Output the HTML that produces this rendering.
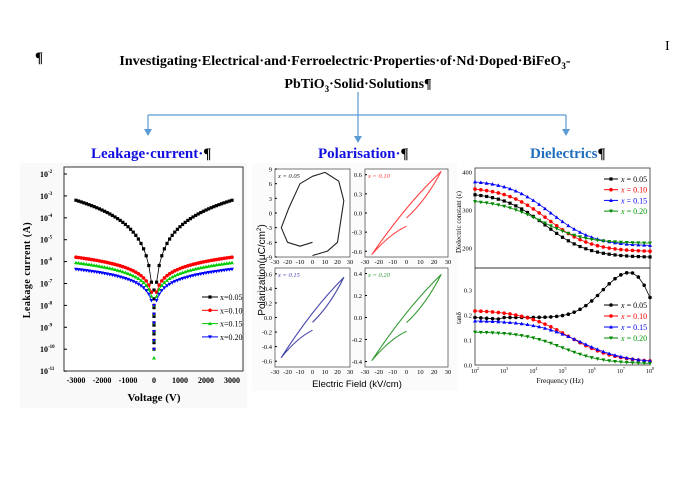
<!DOCTYPE html>
<html><head><meta charset="utf-8"><style>
body{margin:0;background:#fff;}
svg{display:block;font-family:"Liberation Serif",serif;}
</style></head><body>
<svg id="s" width="676" height="477" xmlns="http://www.w3.org/2000/svg">
<text x="35" y="62" font-size="15" font-weight="bold">¶</text>
<text x="665" y="50" font-size="14">I</text>
<text x="345" y="65" font-size="14" font-weight="bold" text-anchor="middle">Investigating·Electrical·and·Ferroelectric·Properties·of·Nd·Doped·BiFeO<tspan font-size="9" dy="4">3</tspan><tspan dy="-4">-</tspan></text>
<text x="358" y="88" font-size="14" font-weight="bold" text-anchor="middle">PbTiO<tspan font-size="9" dy="4">3</tspan><tspan dy="-4">·Solid·Solutions¶</tspan></text>
<g stroke="#5b9bd5" stroke-width="1.2" fill="none">
<path d="M358 92 V138 M148 115 H566 M148 115 V130 M566 115 V130"/>
</g>
<g fill="#5b9bd5"><path d="M144 129 L152 129 L148 136Z"/><path d="M354 136 L362 136 L358 143Z"/><path d="M562 129 L570 129 L566 136Z"/></g>
<text x="91" y="158" font-size="15" font-weight="bold" fill="#1010e0">Leakage·current·<tspan fill="#000">¶</tspan></text>
<text x="318" y="158" font-size="15" font-weight="bold" fill="#1010e0">Polarisation·<tspan fill="#000">¶</tspan></text>
<text x="530" y="158" font-size="15" font-weight="bold" fill="#1f6fc0">Dielectrics<tspan fill="#000">¶</tspan></text>
<rect x="20" y="163" width="227" height="245" fill="#f9f9f9"/>
<rect x="252" y="163" width="205" height="228" fill="#fbfbfb"/>
<g id="g"></g>
</svg>
<script>
var g=document.getElementById('g'),h='';
function T(x,y,t,o){h+='<text x="'+x+'" y="'+y+'" '+(o||'font-size="8"')+'>'+t+'</text>';}
function mk(x,y,c,t){if(t==0)h+='<rect x="'+(x-1.6)+'" y="'+(y-1.6)+'" width="3.2" height="3.2" fill="'+c+'"/>';
else if(t==1)h+='<circle cx="'+x+'" cy="'+y+'" r="1.8" fill="'+c+'"/>';
else if(t==2)h+='<path d="M'+x+' '+(y-2)+'l2 3.5h-4z" fill="'+c+'"/>';
else h+='<path d="M'+x+' '+(y+2)+'l2 -3.5h-4z" fill="'+c+'"/>';}
var cols=['#000','#f00','#0c0','#00f'];
// Leakage
h+='<rect x="64" y="167" width="179" height="204" fill="#fff" stroke="#333" stroke-width="1"/>';
var ly=function(l){return 174+(-2-l)*21.9}, lx=function(v){return 154+v*78/3000};
for(var i=2;i<=11;i++){var y=ly(-i);h+='<line x1="64" x2="67" y1="'+y+'" y2="'+y+'" stroke="#000"/>';T(40,y+3,'10<tspan font-size="5" dy="-4">-'+i+'</tspan>','font-size="8" font-weight="bold"');}
for(var v=-3000;v<=3000;v+=1000){T(lx(v),383,v,'font-size="8" font-weight="bold" text-anchor="middle"');}
T(154,401,'Voltage (V)','font-size="11" font-weight="bold" text-anchor="middle"');
h+='<text transform="translate(30,270) rotate(-90)" font-size="10" font-weight="bold" text-anchor="middle" letter-spacing="0.5">Leakage current (A)</text>';
var L=[[-3.2,1.1],[-5.8,0.47],[-6.05,0.45],[-6.35,0.42]];
L.forEach(function(p,k){var pts=[];for(var v=-3000;v<=3000;v+=100){if(v==0)continue;var l=p[0]-p[1]*Math.log(3000/Math.abs(v));pts.push([lx(v),ly(l)]);}
var d='';pts.forEach(function(q,j){d+=(j==30?'M':(j?'L':'M'))+q[0].toFixed(1)+' '+q[1].toFixed(1);});
h+='<path d="'+d+'" stroke="'+cols[k]+'" fill="none" stroke-width="0.8"/>';pts.forEach(function(q){mk(q[0],q[1],cols[k],k);});
var lo=[-7.3,-8,-8,-8][k],hi=[-10,-10.2,-10.6,-10.3][k];for(var l=lo;l>=hi;l-=0.4)mk(154,ly(l),cols[k],k);});
['x=0.05','x=0.10','x=0.15','x=0.20'].forEach(function(t,k){var y=297+k*13.3;h+='<line x1="202" x2="218" y1="'+y+'" y2="'+y+'" stroke="'+cols[k]+'"/>';mk(210,y,cols[k],k);T(220,y+3,t,'font-size="8"');});
// Polarisation
var P=[[275,350,169,257,9,-9,[9,6,3,0,-3,-6,-9],'x = 0.05','#333',180],[365,448,169,257,0.69,-0.69,[0.6,0.3,'0.0',-0.3,-0.6],'x = 0.10','#f33',0.65],[275,350,268,367,0.68,-0.68,[0.6,0.4,0.2,'0.0',-0.2,-0.4,-0.6],'x = 0.15','#336',0.55],[365,448,268,367,0.45,-0.45,[0.4,0.2,'0.0',-0.2,-0.4],'x = 0.20','#393',0.39]];
var pc=['#222','#f44','#44a','#393'];
P.forEach(function(p,k){var X=function(e){return p[0]+(e+30)/60*(p[1]-p[0])},Y=function(v){return p[3]-(v-p[5])/(p[4]-p[5])*(p[3]-p[2])};
h+='<rect x="'+p[0]+'" y="'+p[2]+'" width="'+(p[1]-p[0])+'" height="'+(p[3]-p[2])+'" fill="#fff" stroke="#555" stroke-width="0.8"/>';
p[6].forEach(function(t){var y=Y(+t);T(p[0]-3,y+2.5,t,'font-size="6.5" text-anchor="end"');h+='<line x1="'+p[0]+'" x2="'+(p[0]+2)+'" y1="'+y+'" y2="'+y+'" stroke="#000"/>';});
for(var e=-30;e<=30;e+=10)T(X(e),p[3]+7,e,'font-size="6.5" text-anchor="middle"');
T(p[0]+3,p[2]+9,p[7],'font-size="6.5" font-style="italic" fill="'+pc[k]+'"');
var d;if(k==0){var q=[[0,-8.7],[12,-7.8],[20,-6],[25,2.5],[21,6.5],[10,8.3],[0,7.5],[-10,6],[-19,1],[-25,-3],[-20,-6],[-10,-6.8],[0,-6]];d='M'+q.map(function(r){return X(r[0]).toFixed(1)+' '+Y(r[1]).toFixed(1)}).join(' L');}
else{var A=p[9];d='M'+X(0)+' '+Y(-0.12*A)+' Q'+X(14)+' '+Y(0.3*A)+' '+X(25)+' '+Y(A)+' Q'+X(0)+' '+Y(0.22*A)+' '+X(-25)+' '+Y(-A)+' Q'+X(-12)+' '+Y(-0.5*A)+' '+X(0)+' '+Y(-0.32*A);}
h+='<path d="'+d+'" fill="none" stroke="'+pc[k]+'" stroke-width="1.1" stroke-linejoin="round"/>';});
T(357,387,'Electric Field (kV/cm)','font-size="9.5" font-family="Liberation Sans" text-anchor="middle"');
h+='<text transform="translate(265,270) rotate(-90)" font-size="10" font-family="Liberation Sans" text-anchor="middle">Polarization(μC/cm<tspan font-size="6" dy="-4">2</tspan><tspan dy="4">)</tspan></text>';
// Dielectrics
var dc=['#000','#f00','#00f','#080'];
h+='<rect x="475" y="168" width="175" height="197" fill="#fff" stroke="#333" stroke-width="0.8"/><line x1="475" x2="650" y1="268" y2="268" stroke="#333"/>';
var FX=function(l){return 475+(l-2)*29.17},UY=function(v){return 172+(400-v)*0.38},BY=function(v){return 365-v*250};
[400,300,200].forEach(function(v){T(472,UY(v)+2.5,v,'font-size="6.5" text-anchor="end"');});
[0.3,0.2,0.1,'0.0'].forEach(function(v){T(472,BY(+v)+2.5,v,'font-size="6.5" text-anchor="end"');});
for(var l=2;l<=8;l++)T(FX(l),373,'10<tspan font-size="4" dy="-3">'+l+'</tspan>','font-size="6" text-anchor="middle"');
T(560,383,'Frequency (Hz)','font-size="7.5" text-anchor="middle"');
h+='<text transform="translate(461,222) rotate(-90)" font-size="7" text-anchor="middle">Dielectric constant (ε)</text>';
h+='<text transform="translate(461,318) rotate(-90)" font-size="7" text-anchor="middle">tanδ</text>';
var sg=function(l,c,w){return 1/(1+Math.exp(-(l-c)/w))};
var U=[[340,175,4.4],[355,190,4.5],[374,205,4.6],[322,212,4.3]];
var B=[function(l){return 0.19+0.18*Math.exp(-Math.pow((l-7.3)/1.3,2))-0.008*(l-2)*(l<3?1:0)},function(l){return 0.01+0.21*(1-sg(l,5.2,0.8))},function(l){return 0.008+0.17*(1-sg(l,5.6,0.8))},function(l){return 0.005+0.128*(1-sg(l,5.0,0.7))}];
for(var k=0;k<4;k++){var d1='',d2='';for(var j=0;j<=30;j++){var l=2+j*0.2,x=FX(l);var u=U[k][1]+(U[k][0]-U[k][1])*(1-sg(l,U[k][2],0.75))/(1-sg(2,U[k][2],0.75));var b=B[k](l);if(k==0&&l>7.3)b=0.37-0.1*Math.pow((l-7.3)/0.7,2);
d1+=(j?'L':'M')+x.toFixed(1)+' '+UY(u).toFixed(1);d2+=(j?'L':'M')+x.toFixed(1)+' '+BY(b).toFixed(1);mk(x,UY(u),dc[k],k==0?0:k);mk(x,BY(b),dc[k],k==0?1:k);}
h+='<path d="'+d1+'" stroke="'+dc[k]+'" fill="none" stroke-width="0.8"/><path d="'+d2+'" stroke="'+dc[k]+'" fill="none" stroke-width="0.8"/>';}
var lab=['x = 0.05','x = 0.10','x = 0.15','x = 0.20'],lc=['#000','#e00','#00e','#090'];
lab.forEach(function(t,k){[179+k*10.7,305+k*11].forEach(function(y,z){h+='<line x1="604" x2="618" y1="'+y+'" y2="'+y+'" stroke="'+dc[k]+'"/>';mk(611,y,dc[k],k==0?z:k);T(621,y+3,'<tspan font-style="italic">x</tspan>'+t.slice(1),'font-size="8" fill="'+lc[k]+'"');});});
g.innerHTML=h;
</script>
</body></html>
